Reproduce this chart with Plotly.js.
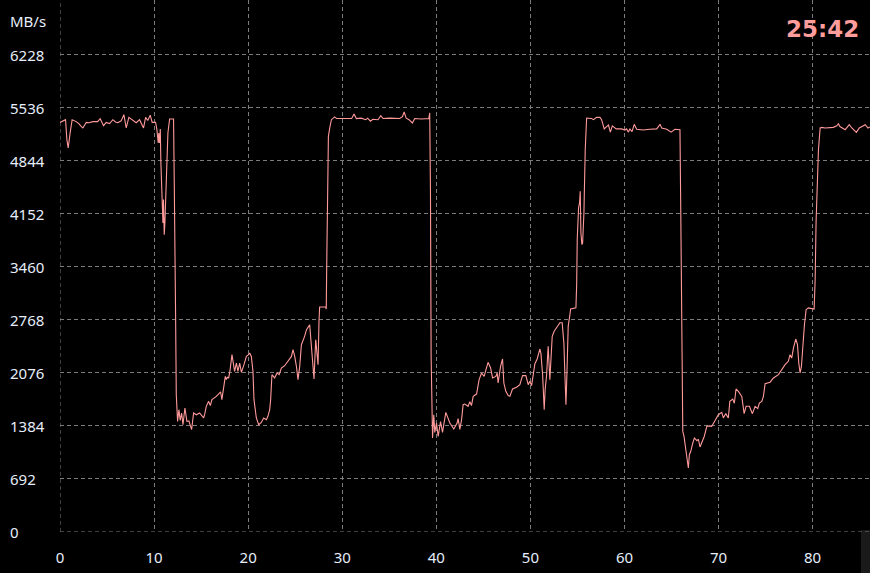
<!DOCTYPE html>
<html>
<head>
<meta charset="utf-8">
<script src="https://cdn.plot.ly/plotly-3.0.1.min.js"></script>
<style>
html,body{margin:0;padding:0;background:#000;}
#chart{width:870px;height:573px;}
</style>
</head>
<body>
<div id="chart"></div>
<script>
// ---- data ----
const timeX = [
0,0.3,0.59,0.73,0.87,1.08,1.29,1.72,2.0,2.25,2.43,2.79,3.1,3.5,4.0,4.27,4.63,4.91,5.27,5.62,5.9,6.15,6.5,6.79,7.04,7.32,7.75,8.1,8.46,8.88,9.1,9.33,9.59,9.8,10.16,10.3,10.44,10.5,10.59,10.66,10.72,10.8,10.94,11.0,11.08,11.15,11.22,11.37,11.47,11.65,12.07,12.15,12.2,12.29,12.36,12.5,12.64,12.78,12.93,13.07,13.28,13.49,13.7,13.99,14.2,14.49,
14.84,15.27,15.37,15.55,15.8,15.98,16.15,16.33,16.62,16.97,17.07,17.21,17.43,17.57,17.68,17.79,17.93,18.06,18.28,18.42,18.56,18.75,18.91,19.1,19.28,19.55,19.81,20.05,20.16,20.34,20.51,20.62,20.87,21.12,21.4,21.65,21.94,22.1,22.29,22.39,22.53,22.82,23.07,23.3,23.53,23.88,24.24,24.6,24.77,24.95,25.13,25.3,25.48,25.66,26.0,26.2,26.54,26.7,26.9,27.0,27.18,27.32,27.43,27.53,27.6,28.24,28.3,28.35,28.42,28.53,28.67,28.85,29.2,29.4,30.1,31.0,31.26,31.5,32.0,32.5,32.7,33.0,33.25,33.8,34.1,34.35,35.05,35.77,36.1,36.4,36.58,36.8,37.1,37.46,37.7,38.4,39.2,39.3,39.38,39.45,39.6,39.73,39.84,40.02,40.2,40.45,40.66,41.01,41.44,41.86,42.21,42.32,42.5,42.68,42.85,43.03,43.38,43.56,43.74,43.92,44.28,44.55,44.81,45.08,45.5,45.77,45.98,46.33,46.47,46.57,46.83,47.04,47.18,47.39,47.64,47.82,48.1,48.53,48.88,49.17,49.52,49.77,49.95,50.13,50.3,50.48,50.72,51.01,51.12,51.3,51.47,51.57,51.72,51.89,52.07,52.32,52.53,52.85,53.14,53.38,53.56,53.7,53.78,53.88,54.02,54.2,54.28,54.84,54.92,54.98,55.12,55.23,55.3,55.37,55.48,55.55,55.69,55.83,55.98,56.5,56.72,57.04,57.39,57.57,57.85,58.1,58.3,58.5,58.71,59.12,59.7,60.05,60.23,60.4,60.58,60.8,61.04,61.3,62.0,62.7,63.43,63.78,63.96,64.5,64.95,65.37,65.9,65.98,66.1,66.2,66.33,66.54,66.79,66.9,67.04,67.26,67.43,67.7,67.86,68.03,68.32,68.49,68.75,69.02,69.27,69.63,69.98,70.34,70.51,70.77,71.04,71.2,71.51,71.68,71.86,72.11,72.47,72.72,72.93,73.28,73.6,73.89,74.17,74.34,74.6,74.77,74.95,75.48,75.84,76.37,76.72,77.07,77.42,77.6,77.78,77.96,78.21,78.39,78.53,78.67,78.81,78.96,79.13,79.31,79.55,80.16,80.27,80.37,80.48,80.62,80.8,80.98,81.33,81.86,82.2,82.57,82.74,82.9,83.46,83.9,84.17,84.65,84.96,85.6,85.88,86.1
];
const speedMBs = [
5345,5360,5380,5120,5011,5211,5380,5355,5330,5293,5272,5345,5340,5355,5355,5393,5302,5345,5330,5380,5350,5340,5365,5445,5272,5410,5365,5340,5380,5272,5410,5370,5440,5345,5345,5250,5076,5207,5076,5259,4836,4380,4032,4337,3880,4032,4337,5032,5207,5389,5389,4510,3466,2793,1792,1443,1596,1456,1553,1400,1618,1443,1450,1335,1553,1530,
1553,1488,1531,1640,1705,1650,1727,1740,1770,1814,1830,1727,1922,2031,1990,2020,2010,2096,2314,2200,2096,2205,2096,2205,2083,2180,2291,2314,2336,2291,2096,1727,1488,1400,1430,1488,1466,1510,1596,1727,2053,2010,2075,2053,2140,2170,2227,2291,2379,2291,2162,1988,2162,2444,2553,2640,2705,2466,2205,1997,2510,2291,2183,2749,2936,2936,2910,3466,4598,5163,5272,5380,5416,5395,5395,5395,5455,5395,5400,5380,5400,5360,5385,5380,5433,5395,5400,5400,5395,5420,5481,5400,5380,5337,5395,5390,5395,5468,4424,2291,1227,1531,1300,1422,1248,1440,1300,1561,1422,1344,1422,1480,1340,1460,1661,1670,1640,1700,1650,1770,1800,1988,2075,2030,2214,2140,2010,2030,2075,1944,2160,2258,1944,1835,1780,1770,1866,1890,1922,2040,2040,1922,1966,1910,2075,2196,2258,2388,2330,2053,1596,1860,2040,2422,1988,2553,2620,2683,2730,2730,2466,1944,1661,2053,2683,2836,2910,2925,3227,3815,4228,4300,4445,3902,3750,3770,4163,4989,5402,5395,5380,5410,5410,5380,5260,5290,5311,5218,5300,5260,5260,5245,5260,5218,5260,5225,5320,5255,5245,5255,5260,5320,5270,5255,5218,5255,5250,4249,2291,1313,1248,1052,835,1009,1050,1161,1227,1192,1210,1109,1210,1250,1378,1385,1378,1466,1531,1561,1488,1545,1488,1705,1735,1680,1866,1835,1770,1544,1640,1640,1544,1640,1610,1683,1705,1770,1935,1955,2010,2053,2118,2183,2227,2314,2270,2400,2518,2445,2205,2075,2160,2466,2705,2901,2925,2910,3292,4053,4640,4989,5272,5280,5272,5272,5280,5300,5328,5290,5250,5315,5272,5215,5272,5315,5272,5285
];
const xTickVals = [0,10,20,30,40,50,60,70,80];
const xTickText = ["0","10","20","30","40","50","60","70","80"];
const yTickVals = [0,692,1384,2076,2768,3460,4152,4844,5536,6228];
const yTickText = ["0","692","1384","2076","2768","3460","4152","4844","5536","6228"];
const unitLabel = "MB/s";
const clockText = "25:42";

// ---- layout ----
const W = 870, H = 573, L = 60, B = 41;
const plotW = W - L, plotH = H - B;
const labelFont = {family: "Noto Sans, Open Sans, sans-serif", size: 15, color: "#e6eefb"};
const GRID_COLOR = "#7c7c7c", GRID_DASH = "4px,3px";
const gridStyle = {showgrid: true, gridcolor: GRID_COLOR, gridwidth: 1, griddash: GRID_DASH, zeroline: false, showline: false, ticks: ""};

const annotations = yTickVals.map((v, i) => ({
  xref: "paper", yref: "y", x: (8 - L) / plotW, y: v,
  xanchor: "left", yanchor: "middle", text: yTickText[i],
  showarrow: false, font: labelFont
}));
annotations.push({
  xref: "paper", yref: "paper", x: (8 - L) / plotW, y: 1 - 21 / plotH,
  xanchor: "left", yanchor: "middle", text: unitLabel, showarrow: false, font: labelFont
});
annotations.push({
  xref: "paper", yref: "paper", x: (861 - L) / plotW, y: 1 - 29 / plotH,
  xanchor: "right", yanchor: "middle", text: "<b>" + clockText + "</b>", showarrow: false,
  font: {family: "DejaVu Sans, Verdana, sans-serif", size: 23, color: "#ff9d9d"}
});

const layout = {
  width: W, height: H,
  margin: {l: L, r: 0, t: 0, b: B, pad: 0},
  paper_bgcolor: "#000", plot_bgcolor: "#000",
  showlegend: false,
  xaxis: Object.assign({}, gridStyle, {
    range: [0, 86.1], tickmode: "array", tickvals: xTickVals, ticktext: xTickText,
    tickfont: labelFont, ticklabelstandoff: 15, fixedrange: true
  }),
  yaxis: Object.assign({}, gridStyle, {
    range: [0, 6942], tickmode: "array", tickvals: yTickVals,
    showticklabels: false, fixedrange: true
  }),
  annotations: annotations,
  shapes: [
    {
      type: "rect", xref: "paper", yref: "paper",
      x0: (861 - L) / plotW, x1: 1.0, y0: -B / plotH, y1: 2 / plotH,
      fillcolor: "#1a1a1a", line: {width: 0}, layer: "below"
    },
    // boundary grid lines (Plotly omits gridlines lying on the plot edge)
    {
      type: "line", xref: "paper", yref: "y", x0: 0, x1: 1, y0: yTickVals[0], y1: yTickVals[0],
      line: {color: GRID_COLOR, width: 1, dash: GRID_DASH}, layer: "below"
    },
    {
      type: "line", xref: "x", yref: "paper", x0: xTickVals[0], x1: xTickVals[0], y0: 0, y1: 1,
      line: {color: GRID_COLOR, width: 1, dash: GRID_DASH}, layer: "below"
    }
  ]
};

const trace = {
  type: "scatter", mode: "lines", x: timeX, y: speedMBs,
  line: {color: "#ff9a9a", width: 1.1, shape: "linear"},
  hoverinfo: "skip", cliponaxis: false
};

Plotly.newPlot("chart", [trace], layout, {displayModeBar: false, staticPlot: true});
</script>
</body>
</html>
